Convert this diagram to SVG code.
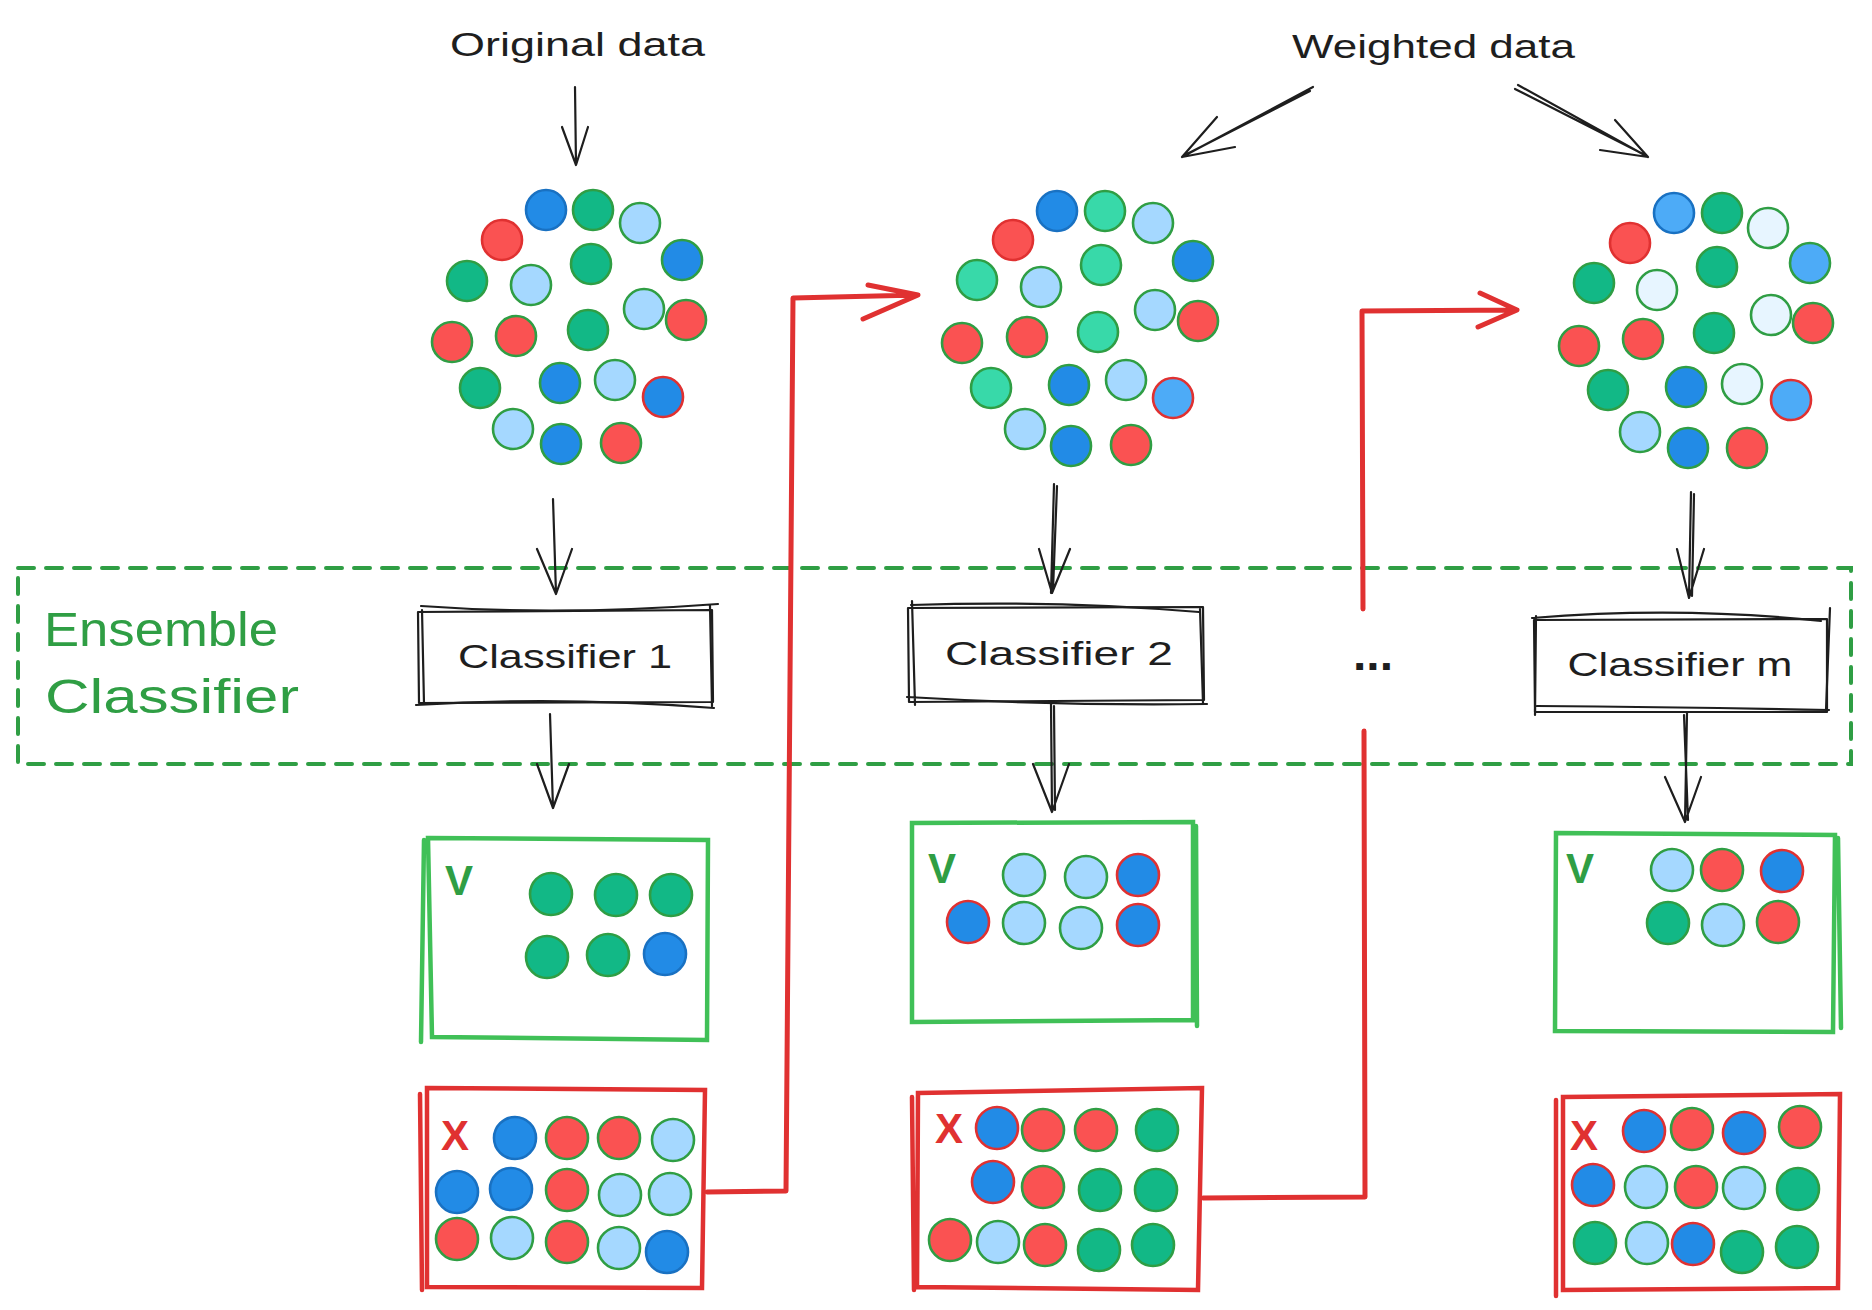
<svg xmlns="http://www.w3.org/2000/svg" width="1872" height="1310" viewBox="0 0 1872 1310">
<defs>
<style>
.c{stroke-width:2.6}
.g{fill:#12b886;stroke:#2f9e44}
.t{fill:#38d9a9;stroke:#2f9e44}
.lb{fill:#a5d8ff;stroke:#2f9e44}
.vlb{fill:#e7f5ff;stroke:#2f9e44}
.b{fill:#228be6;stroke:#1971c2}
.bg{fill:#228be6;stroke:#2f9e44}
.br{fill:#228be6;stroke:#e03131}
.mb{fill:#4dabf7;stroke:#1971c2}
.mbg{fill:#4dabf7;stroke:#2f9e44}
.mbr{fill:#4dabf7;stroke:#e03131}
.r{fill:#fa5252;stroke:#e03131}
.rg{fill:#fa5252;stroke:#2f9e44}
.ink{fill:none;stroke:#1e1e1e;stroke-width:2.2;stroke-linecap:round;stroke-linejoin:round}
.red{fill:none;stroke:#e03131;stroke-width:5;stroke-linecap:round;stroke-linejoin:round}
.gbox{fill:none;stroke:#40c057;stroke-width:4.5;stroke-linecap:round}
.rbox{fill:none;stroke:#e03131;stroke-width:4.5;stroke-linecap:round}
.lbl{font-family:"Liberation Sans",Arial,sans-serif;fill:#1e1e1e}
.mark{font-family:"Liberation Sans",Arial,sans-serif;font-weight:bold;font-size:42px}
</style>
</defs>

<!-- top labels -->
<g id="label-original">
<text class="lbl" x="450" y="56" font-size="34" textLength="255" lengthAdjust="spacingAndGlyphs">Original data</text>
</g>
<g id="label-weighted">
<text class="lbl" x="1292" y="58" font-size="34" textLength="283" lengthAdjust="spacingAndGlyphs">Weighted data</text>
</g>

<!-- ensemble dashed container -->
<g id="ensemble">
<rect x="18" y="568" width="1833" height="196" fill="none" stroke="#2f9e44" stroke-width="4" stroke-dasharray="16 12" stroke-linecap="round"/>
<text x="44" y="646" font-family="Liberation Sans,Arial,sans-serif" font-size="49" fill="#2f9e44" textLength="234" lengthAdjust="spacingAndGlyphs">Ensemble</text>
<text x="45" y="713" font-family="Liberation Sans,Arial,sans-serif" font-size="49" fill="#2f9e44" textLength="254" lengthAdjust="spacingAndGlyphs">Classifier</text>
</g>

<!-- data clusters -->
<g id="cluster1" class="c">
<circle class="b" cx="546" cy="210" r="20"/>
<circle class="g" cx="593" cy="210" r="20"/>
<circle class="lb" cx="640" cy="223" r="20"/>
<circle class="r" cx="502" cy="240" r="20"/>
<circle class="bg" cx="682" cy="260" r="20"/>
<circle class="g" cx="591" cy="264" r="20"/>
<circle class="g" cx="467" cy="281" r="20"/>
<circle class="lb" cx="531" cy="285" r="20"/>
<circle class="lb" cx="644" cy="309" r="20"/>
<circle class="rg" cx="686" cy="320" r="20"/>
<circle class="g" cx="588" cy="330" r="20"/>
<circle class="rg" cx="452" cy="342" r="20"/>
<circle class="rg" cx="516" cy="336" r="20"/>
<circle class="g" cx="480" cy="388" r="20"/>
<circle class="bg" cx="560" cy="383" r="20"/>
<circle class="lb" cx="615" cy="380" r="20"/>
<circle class="br" cx="663" cy="397" r="20"/>
<circle class="lb" cx="513" cy="429" r="20"/>
<circle class="bg" cx="561" cy="444" r="20"/>
<circle class="rg" cx="621" cy="443" r="20"/>
</g>

<g id="cluster2" class="c">
<circle class="b" cx="1057" cy="211" r="20"/>
<circle class="t" cx="1105" cy="211" r="20"/>
<circle class="lb" cx="1153" cy="223" r="20"/>
<circle class="r" cx="1013" cy="240" r="20"/>
<circle class="bg" cx="1193" cy="261" r="20"/>
<circle class="t" cx="1101" cy="265" r="20"/>
<circle class="t" cx="977" cy="280" r="20"/>
<circle class="lb" cx="1041" cy="287" r="20"/>
<circle class="lb" cx="1155" cy="310" r="20"/>
<circle class="rg" cx="1198" cy="321" r="20"/>
<circle class="t" cx="1098" cy="332" r="20"/>
<circle class="rg" cx="962" cy="343" r="20"/>
<circle class="rg" cx="1027" cy="337" r="20"/>
<circle class="t" cx="991" cy="388" r="20"/>
<circle class="bg" cx="1069" cy="385" r="20"/>
<circle class="lb" cx="1126" cy="380" r="20"/>
<circle class="mbr" cx="1173" cy="398" r="20"/>
<circle class="lb" cx="1025" cy="429" r="20"/>
<circle class="bg" cx="1071" cy="446" r="20"/>
<circle class="rg" cx="1131" cy="445" r="20"/>
</g>

<g id="cluster3" class="c">
<circle class="mb" cx="1674" cy="213" r="20"/>
<circle class="g" cx="1722" cy="213" r="20"/>
<circle class="vlb" cx="1768" cy="228" r="20"/>
<circle class="r" cx="1630" cy="243" r="20"/>
<circle class="mbg" cx="1810" cy="263" r="20"/>
<circle class="g" cx="1717" cy="267" r="20"/>
<circle class="g" cx="1594" cy="283" r="20"/>
<circle class="vlb" cx="1657" cy="290" r="20"/>
<circle class="vlb" cx="1771" cy="315" r="20"/>
<circle class="rg" cx="1813" cy="323" r="20"/>
<circle class="g" cx="1714" cy="333" r="20"/>
<circle class="rg" cx="1579" cy="346" r="20"/>
<circle class="rg" cx="1643" cy="339" r="20"/>
<circle class="g" cx="1608" cy="390" r="20"/>
<circle class="bg" cx="1686" cy="387" r="20"/>
<circle class="vlb" cx="1742" cy="384" r="20"/>
<circle class="mbr" cx="1791" cy="400" r="20"/>
<circle class="lb" cx="1640" cy="432" r="20"/>
<circle class="bg" cx="1688" cy="448" r="20"/>
<circle class="rg" cx="1747" cy="448" r="20"/>
</g>

<!-- classifiers -->
<g id="classifier1">
<path class="ink" d="M418 612 L712 610 L713 702 L419 703 Z"/>
<path class="ink" d="M421 606 Q560 616 718 604 M416 705 Q560 696 714 708 M422 610 L424 704 M710 606 L712 706" stroke-width="1.3"/>
<text class="lbl" x="565" y="668" font-size="34" text-anchor="middle" textLength="214" lengthAdjust="spacingAndGlyphs">Classifier 1</text>
</g>
<g id="classifier2">
<path class="ink" d="M908 608 L1203 607 L1204 700 L909 702 Z"/>
<path class="ink" d="M911 605 Q1060 600 1199 612 M907 697 Q1060 706 1207 704 M912 601 L915 705 M1200 609 L1203 703" stroke-width="1.3"/>
<text class="lbl" x="1059" y="665" font-size="34" text-anchor="middle" textLength="228" lengthAdjust="spacingAndGlyphs">Classifier 2</text>
</g>
<g id="classifier-m">
<path class="ink" d="M1534 620 L1827 619 L1827 712 L1535 712 Z"/>
<path class="ink" d="M1532 618 Q1680 606 1821 621 M1537 706 Q1680 707 1829 710 M1536 616 L1535 715 M1830 608 L1826 710" stroke-width="1.3"/>
<text class="lbl" x="1680" y="676" font-size="34" text-anchor="middle" textLength="225" lengthAdjust="spacingAndGlyphs">Classifier m</text>
</g>
<g id="ellipsis">
<text class="lbl" x="1373" y="670" font-size="46" font-weight="bold" text-anchor="middle" textLength="40" lengthAdjust="spacingAndGlyphs">...</text>
</g>

<!-- correct boxes -->
<g id="correct1" class="c">
<path class="gbox" d="M428 838 L708 840 L707 1040 L432 1037 Z M424 840 L421 1042"/>
<text class="mark" x="445" y="895" fill="#2f9e44">V</text>
<circle class="g" cx="551" cy="894" r="21"/>
<circle class="g" cx="616" cy="895" r="21"/>
<circle class="g" cx="671" cy="895" r="21"/>
<circle class="g" cx="547" cy="957" r="21"/>
<circle class="g" cx="608" cy="955" r="21"/>
<circle class="b" cx="665" cy="954" r="21"/>
</g>
<g id="correct2" class="c">
<path class="gbox" d="M912 823 L1193 822 L1193 1020 L912 1022 Z M1196 826 L1197 1026"/>
<text class="mark" x="928" y="883" fill="#2f9e44">V</text>
<circle class="lb" cx="1024" cy="875" r="21"/>
<circle class="lb" cx="1086" cy="877" r="21"/>
<circle class="br" cx="1138" cy="875" r="21"/>
<circle class="br" cx="968" cy="922" r="21"/>
<circle class="lb" cx="1024" cy="923" r="21"/>
<circle class="lb" cx="1081" cy="928" r="21"/>
<circle class="br" cx="1138" cy="925" r="21"/>
</g>
<g id="correct3" class="c">
<path class="gbox" d="M1556 833 L1835 835 L1833 1032 L1555 1031 Z M1838 838 L1841 1028"/>
<text class="mark" x="1566" y="883" fill="#2f9e44">V</text>
<circle class="lb" cx="1672" cy="870" r="21"/>
<circle class="rg" cx="1722" cy="870" r="21"/>
<circle class="br" cx="1782" cy="871" r="21"/>
<circle class="g" cx="1668" cy="923" r="21"/>
<circle class="lb" cx="1723" cy="925" r="21"/>
<circle class="rg" cx="1778" cy="922" r="21"/>
</g>

<!-- wrong boxes -->
<g id="wrong1" class="c">
<path class="rbox" d="M427 1088 L705 1090 L702 1288 L427 1287 Z M420 1094 L422 1290"/>
<text class="mark" x="441" y="1150" fill="#e03131">X</text>
<circle class="b" cx="515" cy="1138" r="21"/>
<circle class="rg" cx="567" cy="1138" r="21"/>
<circle class="rg" cx="619" cy="1138" r="21"/>
<circle class="lb" cx="673" cy="1140" r="21"/>
<circle class="b" cx="457" cy="1192" r="21"/>
<circle class="b" cx="511" cy="1189" r="21"/>
<circle class="rg" cx="567" cy="1190" r="21"/>
<circle class="lb" cx="620" cy="1195" r="21"/>
<circle class="lb" cx="670" cy="1194" r="21"/>
<circle class="rg" cx="457" cy="1239" r="21"/>
<circle class="lb" cx="512" cy="1238" r="21"/>
<circle class="rg" cx="567" cy="1242" r="21"/>
<circle class="lb" cx="619" cy="1248" r="21"/>
<circle class="b" cx="667" cy="1252" r="21"/>
</g>
<g id="wrong2" class="c">
<path class="rbox" d="M918 1093 L1202 1088 L1198 1290 L917 1287 Z M912 1097 L914 1290"/>
<text class="mark" x="935" y="1143" fill="#e03131">X</text>
<circle class="br" cx="997" cy="1128" r="21"/>
<circle class="rg" cx="1043" cy="1130" r="21"/>
<circle class="rg" cx="1096" cy="1130" r="21"/>
<circle class="g" cx="1157" cy="1130" r="21"/>
<circle class="br" cx="993" cy="1182" r="21"/>
<circle class="rg" cx="1043" cy="1187" r="21"/>
<circle class="g" cx="1100" cy="1190" r="21"/>
<circle class="g" cx="1156" cy="1190" r="21"/>
<circle class="rg" cx="950" cy="1240" r="21"/>
<circle class="lb" cx="998" cy="1242" r="21"/>
<circle class="rg" cx="1045" cy="1245" r="21"/>
<circle class="g" cx="1099" cy="1250" r="21"/>
<circle class="g" cx="1153" cy="1245" r="21"/>
</g>
<g id="wrong3" class="c">
<path class="rbox" d="M1563 1097 L1840 1094 L1838 1288 L1563 1290 Z M1556 1100 L1556 1296"/>
<text class="mark" x="1570" y="1150" fill="#e03131">X</text>
<circle class="br" cx="1644" cy="1131" r="21"/>
<circle class="rg" cx="1692" cy="1129" r="21"/>
<circle class="br" cx="1744" cy="1133" r="21"/>
<circle class="rg" cx="1800" cy="1127" r="21"/>
<circle class="br" cx="1593" cy="1185" r="21"/>
<circle class="lb" cx="1646" cy="1187" r="21"/>
<circle class="rg" cx="1696" cy="1187" r="21"/>
<circle class="lb" cx="1744" cy="1188" r="21"/>
<circle class="g" cx="1798" cy="1189" r="21"/>
<circle class="g" cx="1595" cy="1243" r="21"/>
<circle class="lb" cx="1647" cy="1243" r="21"/>
<circle class="br" cx="1693" cy="1244" r="21"/>
<circle class="g" cx="1742" cy="1252" r="21"/>
<circle class="g" cx="1797" cy="1247" r="21"/>
</g>

<!-- connectors -->
<g id="connectors">
<path class="ink" d="M575 87 L576 165 M562 127 L576 165 L588 127"/>
<path class="ink" d="M1313 87 L1182 157 M1310 91 L1185 155 M1217 117 L1182 157 L1235 147"/>
<path class="ink" d="M1518 85 L1648 157 M1515 89 L1645 155 M1615 120 L1648 157 L1600 150"/>
<path class="ink" d="M553 499 L556 593 M537 549 L556 594 L572 549"/>
<path class="ink" d="M550 714 L553 808 M537 764 L553 808 L569 764"/>
<path class="ink" d="M1054 484 L1051 593 M1057 486 L1053 590 M1039 549 L1052 593 L1070 549"/>
<path class="ink" d="M1051 704 L1052 812 M1054 706 L1055 810 M1033 764 L1052 812 L1069 764"/>
<path class="ink" d="M1691 492 L1689 597 M1694 494 L1692 596 M1677 549 L1689 598 L1704 549"/>
<path class="ink" d="M1687 713 L1685 821 M1684 715 L1688 820 M1665 777 L1685 822 L1701 777"/>
<path class="red" d="M707 1192 L786 1191 L793 298 L918 295 M868 285 L918 295 L863 319"/>
<path class="red" d="M1203 1198 L1365 1197 L1364 731"/>
<path class="red" d="M1363 609 L1362 311 L1517 310 M1480 293 L1517 310 L1478 327"/>
</g>
</svg>
